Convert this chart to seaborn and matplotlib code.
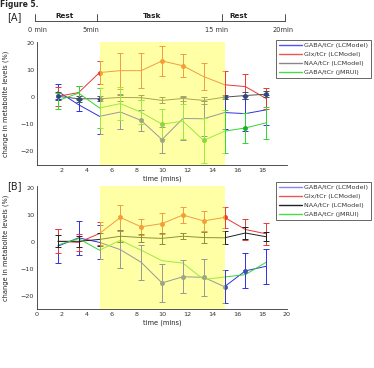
import matplotlib
matplotlib.use("Agg")
import matplotlib.pyplot as plt
import seaborn as sns
import numpy as np
import pandas as pd
from matplotlib.lines import Line2D

sns.set_theme(style="white")
plt.rcParams["font.family"] = ["DejaVu Sans"]

times = [1.67, 3.33, 5.0, 6.67, 8.33, 10.0, 11.67, 13.33, 15.0, 16.67, 18.33]
series_names = ["GABA/tCr (LCModel)", "Glx/tCr (LCModel)", "NAA/tCr (LCModel)", "GABA/tCr (jMRUI)"]

# Panel A
gaba_lc_A = [2.2, -2.7, -7.0, -5.4, -8.5, -15.6, -7.8, -7.9, -5.6, -6.0, -4.6]
gaba_lc_A_err = [2.7, 2.2, 6.5, 6.2, 3.9, 4.8, 8.0, 6.5, 5.9, 6.5, 5.6]
glx_A = [0.4, 1.8, 9.2, 9.9, 9.9, 13.5, 11.7, 7.7, 4.7, 4.0, -0.4]
glx_A_err = [3.5, 2.5, 4.1, 6.7, 6.5, 5.7, 4.3, 4.9, 5.2, 4.6, 3.9]
naa_A = [0.4, -0.5, -0.5, 0.0, -0.1, -1.1, -0.4, -1.1, 0.1, 0.7, 1.2]
naa_A_err = [1.5, 1.2, 1.0, 1.2, 1.0, 1.1, 1.0, 1.2, 0.8, 1.2, 1.0]
gaba_jm_A = [-1.2, 1.6, -3.9, -2.3, -5.5, -9.9, -8.8, -15.9, -12.5, -11.3, -9.4]
gaba_jm_A_err = [3.0, 2.5, 7.4, 6.0, 4.5, 5.6, 6.5, 8.2, 8.0, 5.5, 5.8]
marks_A = {"GABA/tCr (LCModel)": [4, 5], "Glx/tCr (LCModel)": [2, 5, 6],
           "NAA/tCr (LCModel)": [0, 1, 2, 8, 9, 10], "GABA/tCr (jMRUI)": [5, 7, 9]}

# Panel B
gaba_lc_B = [-1.6, 1.5, -0.2, -2.9, -7.6, -15.3, -13.0, -13.2, -16.7, -10.8, -9.1]
gaba_lc_B_err = [6.3, 6.4, 6.3, 7.0, 6.6, 7.2, 6.2, 6.8, 6.2, 6.5, 6.5]
glx_B = [0.2, -0.2, 3.1, 9.1, 5.6, 6.8, 10.0, 7.8, 9.1, 4.6, 3.0]
glx_B_err = [4.5, 3.3, 4.3, 4.5, 3.0, 3.8, 3.1, 3.7, 3.9, 3.8, 4.0]
naa_B = [0.2, 0.2, 0.9, 2.1, 1.6, 1.3, 2.1, 1.6, 1.5, 3.3, 1.9]
naa_B_err = [2.2, 2.0, 2.5, 2.3, 1.5, 2.1, 1.2, 2.2, 2.4, 2.4, 1.7]
gaba_jm_B = [-1.2, 1.2, -3.1, 0.6, -3.1, -7.0, -7.9, -14.0, -13.1, -12.2, -7.6]
marks_B = {"GABA/tCr (LCModel)": [5, 6, 7, 8, 9], "Glx/tCr (LCModel)": [3, 4, 5, 6, 7, 8],
           "NAA/tCr (LCModel)": [], "GABA/tCr (jMRUI)": []}

task_start, task_end = 5, 15

colors_A = {"GABA/tCr (LCModel)": "#3030e8", "Glx/tCr (LCModel)": "#e83838",
            "NAA/tCr (LCModel)": "#505050", "GABA/tCr (jMRUI)": "#30d830"}
colors_B = dict(colors_A)
colors_B["NAA/tCr (LCModel)"] = "#202020"
marker_colors = {"GABA/tCr (LCModel)": "#4050b0", "Glx/tCr (LCModel)": "#e84020",
                 "NAA/tCr (LCModel)": "#304880", "GABA/tCr (jMRUI)": "#20b020"}
legend_colors_A = {"GABA/tCr (LCModel)": "#5555ee", "Glx/tCr (LCModel)": "#ee5555",
                   "NAA/tCr (LCModel)": "#888888", "GABA/tCr (jMRUI)": "#44dd44"}
legend_colors_B = {"GABA/tCr (LCModel)": "#8888ee", "Glx/tCr (LCModel)": "#ee5555",
                   "NAA/tCr (LCModel)": "#222222", "GABA/tCr (jMRUI)": "#44dd44"}

W, H = 374, 368
fig = plt.figure(figsize=(W / 100, H / 100), dpi=100)

def fx(px):
    return px / W

def fy(py):
    return 1 - py / H

def make_df(vals):
    rows = []
    for name, v in zip(series_names, vals):
        for t, y in zip(times, v):
            rows.append({"time": t, "value": y, "series": name})
    return pd.DataFrame(rows)

def draw_panel(ax, vals, errs, colors, marks, xticks, ylim_top):
    df = make_df(vals)
    sns.lineplot(data=df, x="time", y="value", hue="series", palette=colors,
                 hue_order=series_names, estimator=None, sort=False,
                 linewidth=0.7, legend=False, ax=ax)
    for name, v, e in zip(series_names, vals, errs):
        if e is None:
            continue
        ax.errorbar(times, v, yerr=e, fmt="none", ecolor=colors[name],
                    elinewidth=0.7, capsize=2, capthick=0.7)
    for name, v in zip(series_names, vals):
        idx = marks[name]
        if not idx:
            continue
        sub = pd.DataFrame({"time": [times[i] for i in idx], "value": [v[i] for i in idx]})
        sns.scatterplot(data=sub, x="time", y="value", color=marker_colors[name], s=9,
                        edgecolor=marker_colors[name], linewidth=0.5, ax=ax, zorder=4)
    ax.axvspan(task_start, task_end, color=(1, 1, 0.3), alpha=0.5, lw=0, zorder=5)
    ax.set_xlim(0, 20)
    ax.set_ylim(-25, ylim_top)
    ax.set_xticks(xticks)
    ax.set_yticks([-20, -10, 0, 10, 20])
    ax.tick_params(axis="both", labelsize=4.6, direction="in", length=2.5, width=0.5,
                   pad=2, colors="#333333")
    for s in ["top", "right"]:
        ax.spines[s].set_visible(False)
    for s in ["left", "bottom"]:
        ax.spines[s].set_linewidth(0.6)
        ax.spines[s].set_color("#333333")
    ax.set_xlabel("time (mins)", fontsize=4.8, labelpad=2, color="#222222")
    ax.set_ylabel("change in metabolite levels (%)", fontsize=4.8, color="#222222")
    ax.yaxis.set_label_coords(-0.112, 0.5)

axA = fig.add_axes([fx(37), fy(165), fx(287) - fx(37), fy(42) - fy(165)])
draw_panel(axA, [gaba_lc_A, glx_A, naa_A, gaba_jm_A],
           [gaba_lc_A_err, glx_A_err, naa_A_err, gaba_jm_A_err],
           colors_A, marks_A, [2, 4, 6, 8, 10, 12, 14, 16, 18], 20.5)

axB = fig.add_axes([fx(37), fy(309), fx(287) - fx(37), fy(186) - fy(309)])
draw_panel(axB, [gaba_lc_B, glx_B, naa_B, gaba_jm_B],
           [gaba_lc_B_err, glx_B_err, naa_B_err, None],
           colors_B, marks_B, list(range(0, 21, 2)), 20.8)

def add_legend(lcolors, top_px):
    handles = [Line2D([0, 1], [0, 0], color=lcolors[n], linewidth=1.0) for n in series_names]
    leg = fig.legend(handles=handles, labels=series_names, loc="upper left",
                     bbox_to_anchor=(fx(276), fy(top_px)), fontsize=4.6,
                     frameon=True, fancybox=False, edgecolor="#222222",
                     handlelength=3.6, handletextpad=0.4, labelspacing=0.55,
                     borderpad=0.45, borderaxespad=0)
    leg.get_frame().set_linewidth(0.6)
    for line, n in zip(leg.get_lines(), series_names):
        line.set_color(lcolors[n])
        line.set_linewidth(1.0)
    for t in leg.get_texts():
        t.set_color("#333333")

add_legend(legend_colors_A, 40)
add_legend(legend_colors_B, 182)

fig.text(0.0, 1.0, "Figure 5.", fontsize=5.5, fontweight="bold", va="top", ha="left")
fig.text(fx(7), fy(17), "[A]", fontsize=7, va="center", ha="left", color="#222222")
fig.text(fx(7), fy(186), "[B]", fontsize=7, va="center", ha="left", color="#222222")

line_y = fy(20.5)
fig.add_artist(Line2D([fx(35), fx(285)], [line_y, line_y], color="#333333", lw=0.6))
for xp in [35, 97, 222, 285]:
    fig.add_artist(Line2D([fx(xp), fx(xp)], [fy(13.5), line_y], color="#333333", lw=0.6))
for label, xp in [("Rest", 65), ("Task", 152), ("Rest", 238)]:
    fig.text(fx(xp), fy(18.5), label, fontsize=5.2, fontweight="bold", ha="center",
             va="baseline", color="#222222")
for label, xp in [("0 min", 37), ("5min", 91), ("15 min", 217), ("20min", 283)]:
    fig.text(fx(xp), fy(30), label, fontsize=4.8, ha="center", va="center", color="#333333")

fig.savefig("out.png", dpi=100)
